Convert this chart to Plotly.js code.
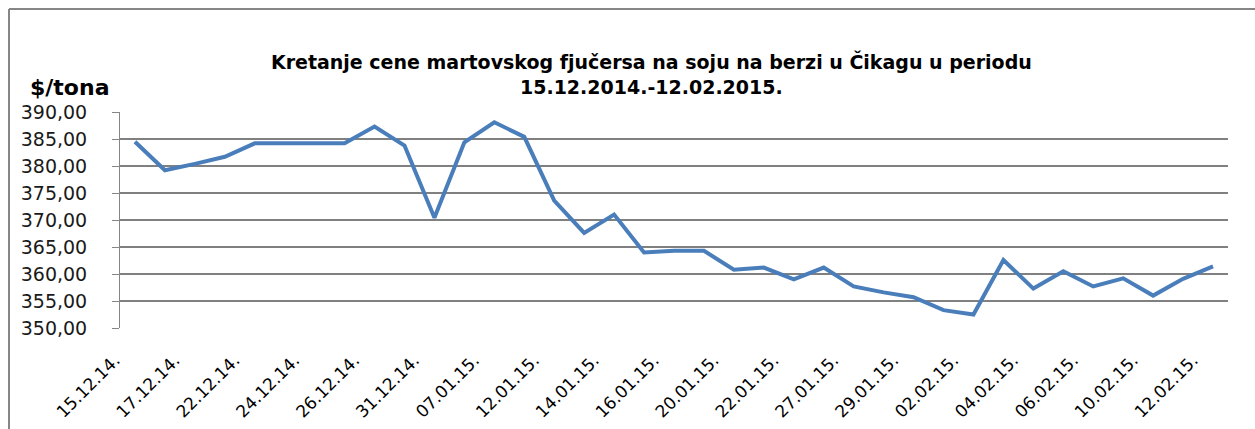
<!DOCTYPE html>
<html>
<head>
<meta charset="utf-8">
<script src="https://cdn.plot.ly/plotly-3.0.1.min.js"></script>
<style>
  html, body { margin: 0; padding: 0; background: #fff; }
  #chart { width: 1255px; height: 429px; }
</style>
</head>
<body>
<div id="chart"></div>
<script>
// Trading days (every second one is labelled on the axis)
const dates = [
  "15.12.14.", "16.12.14.", "17.12.14.", "19.12.14.", "22.12.14.", "23.12.14.",
  "24.12.14.", "25.12.14.", "26.12.14.", "30.12.14.", "31.12.14.", "05.01.15.",
  "07.01.15.", "09.01.15.", "12.01.15.", "13.01.15.", "14.01.15.", "15.01.15.",
  "16.01.15.", "19.01.15.", "20.01.15.", "21.01.15.", "22.01.15.", "26.01.15.",
  "27.01.15.", "28.01.15.", "29.01.15.", "30.01.15.", "02.02.15.", "03.02.15.",
  "04.02.15.", "05.02.15.", "06.02.15.", "09.02.15.", "10.02.15.", "11.02.15.",
  "12.02.15."
];
// Price of March soybean futures, $/t
const prices = [
  384.5, 379.2, 380.4, 381.7, 384.2, 384.2,
  384.2, 384.2, 387.3, 383.8, 370.4, 384.4,
  388.1, 385.4, 373.6, 367.6, 371.0, 364.0,
  364.3, 364.3, 360.8, 361.2, 359.0, 361.2,
  357.7, 356.6, 355.7, 353.3, 352.5, 362.6,
  357.3, 360.5, 357.7, 359.2, 356.0, 359.1,
  361.4
];
const tickLabels = [
  "15.12.14.", "17.12.14.", "22.12.14.", "24.12.14.", "26.12.14.", "31.12.14.",
  "07.01.15.", "12.01.15.", "14.01.15.", "16.01.15.", "20.01.15.", "22.01.15.",
  "27.01.15.", "29.01.15.", "02.02.15.", "04.02.15.", "06.02.15.", "10.02.15.",
  "12.02.15."
];
const yTicks = [350, 355, 360, 365, 370, 375, 380, 385, 390];

const W = 1255, H = 429;
const mL = 120, mR = 27, mT = 112, mB = 101;
const pw = W - mL - mR, ph = H - mT - mB;
const px = v => (v - mL) / pw;          // pixel x -> paper x
const py = v => (H - mB - v) / ph;      // pixel y -> paper y

const trace = {
  type: "scatter",
  mode: "lines",
  x: dates,
  y: prices,
  line: { color: "#4A7EBB", width: 4 },
  hoverinfo: "x+y"
};

const layout = {
  width: W, height: H,
  margin: { l: mL, r: mR, t: mT, b: mB, pad: 0 },
  paper_bgcolor: "#ffffff",
  plot_bgcolor: "#ffffff",
  showlegend: false,
  separators: ",.",
  font: { family: "DejaVu Sans, sans-serif", color: "#000" },
  title: {
    text: "Kretanje cene martovskog fjučersa na soju na berzi u Čikagu u periodu<br>15.12.2014.-12.02.2015.",
    font: { family: "DejaVu Sans, sans-serif", size: 19, color: "#000", weight: "bold" },
    x: 0.519, xref: "container", xanchor: "center",
    y: 1 - 69 / H, yref: "container", yanchor: "middle"
  },
  xaxis: {
    type: "category",
    range: [-0.5, dates.length - 0.5],
    tickmode: "array",
    tickvals: tickLabels,
    ticktext: tickLabels,
    tickangle: -45,
    tickfont: { family: "DejaVu Sans, sans-serif", size: 17, color: "#000" },
    ticklabelstandoff: 18,
    ticklabelshift: -20,
    showgrid: false,
    showline: false,
    zeroline: false,
    ticks: "",
    fixedrange: true
  },
  yaxis: {
    range: [350, 390],
    tickmode: "array",
    tickvals: yTicks,
    tickformat: ".2f",
    tickfont: { family: "DejaVu Sans, sans-serif", size: 19, color: "#1a1a1a" },
    showgrid: true,
    gridcolor: "#808080",
    gridwidth: 1.5,
    showline: true,
    linecolor: "#868686",
    linewidth: 1,
    ticks: "outside",
    ticklen: 7,
    tickcolor: "#868686",
    ticklabelstandoff: 21,
    zeroline: false,
    fixedrange: true
  },
  annotations: [{
    text: "<b>$/tona</b>",
    xref: "paper", yref: "paper",
    x: px(69), y: py(88),
    xanchor: "center", yanchor: "middle",
    showarrow: false,
    font: { family: "DejaVu Sans, sans-serif", size: 22, color: "#000" }
  }],
  shapes: [
    { type: "line", xref: "paper", yref: "paper",
      x0: px(9), x1: px(1256), y0: py(9), y1: py(9),
      line: { color: "#868686", width: 2 } },
    { type: "line", xref: "paper", yref: "paper",
      x0: px(9), x1: px(9), y0: py(9), y1: py(430),
      line: { color: "#868686", width: 2 } }
  ]
};

Plotly.newPlot("chart", [trace], layout, { displayModeBar: false, staticPlot: true });
</script>
</body>
</html>
